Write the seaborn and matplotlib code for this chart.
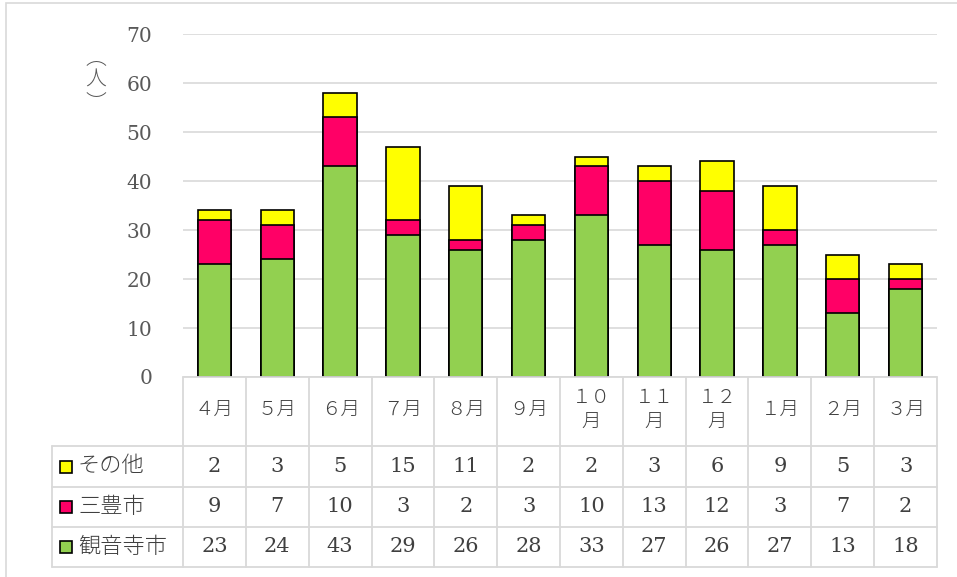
import matplotlib
matplotlib.use("Agg")
import matplotlib.pyplot as plt
import matplotlib.transforms as mtransforms
from matplotlib.patches import Rectangle
import seaborn as sns
import pandas as pd
import numpy as np

months = ['４月', '５月', '６月', '７月', '８月', '９月', '１０月', '１１月', '１２月', '１月', '２月', '３月']
series_names = ['その他', '三豊市', '観音寺市']
sonota = [2, 3, 5, 15, 11, 2, 2, 3, 6, 9, 5, 3]
mitoyo = [9, 7, 10, 3, 2, 3, 10, 13, 12, 3, 7, 2]
kanonji = [23, 24, 43, 29, 26, 28, 33, 27, 26, 27, 13, 18]
colors = {'その他': '#FFFF00', '三豊市': '#FF0066', '観音寺市': '#92D050'}
yticks = [0, 10, 20, 30, 40, 50, 60, 70]
ylabel = '人'

sns.set_theme(style="white")
FAM = ['DejaVu Serif', 'Noto Sans CJK JP', 'DejaVu Sans']
plt.rcParams['font.family'] = FAM

W, H = 957, 577
fig = plt.figure(figsize=(W / 100, H / 100), dpi=100)
fig.patch.set_facecolor('white')

def fx(px):
    return px / W

def fy(py):
    return 1 - py / H

ax_l, ax_r, ax_t, ax_b = 183, 937, 34, 377
ax = fig.add_axes([fx(ax_l), fy(ax_b), fx(ax_r - ax_l), (ax_b - ax_t) / H])

df = pd.DataFrame({'month': months, 'その他': sonota, '三豊市': mitoyo, '観音寺市': kanonji})
df['c2'] = df['観音寺市'] + df['三豊市']
df['c3'] = df['c2'] + df['その他']

bw = 0.53
sns.barplot(data=df, x='month', y='c3', color=colors['その他'], saturation=1,
            edgecolor='black', linewidth=1.2, width=bw, ax=ax, zorder=3)
sns.barplot(data=df, x='month', y='c2', color=colors['三豊市'], saturation=1,
            edgecolor='black', linewidth=1.2, width=bw, ax=ax, zorder=4)
sns.barplot(data=df, x='month', y='観音寺市', color=colors['観音寺市'], saturation=1,
            edgecolor='black', linewidth=1.2, width=bw, ax=ax, zorder=5)

ax.set_xlim(-0.5, len(months) - 0.5)
ax.set_ylim(0, 70)
ax.set_yticks(yticks)
ax.set_yticklabels([str(v) for v in yticks], fontsize=14.5, color='#595959')
ax.tick_params(axis='y', length=0, pad=22)
ax.set_xticks([])
ax.set_xlabel('')
ax.set_ylabel('')
for s in ax.spines.values():
    s.set_visible(False)
ax.yaxis.grid(True, color='#d9d9d9', linewidth=1.2, zorder=0)
ax.set_axisbelow(True)

# y label (vertical)
fig.text(fx(96), fy(80), '︵\n' + ylabel + '\n︶', ha='center', va='center', fontsize=15,
         color='#595959', family=['Noto Sans CJK JP'], linespacing=1.05, fontweight='light')

# table
trans = mtransforms.blended_transform_factory(ax.transData, ax.transAxes)
ah = ax_b - ax_t
def ay(py):
    return (ax_b - py) / ah

x_left_px = 52
col_w = (ax_r - ax_l) / len(months)
x_left = -0.5 + (x_left_px - ax_l) / col_w
row_edges = [377, 446, 487, 527, 567]
gc = '#d9d9d9'
lw = 1.3
ax.plot([-0.5, len(months) - 0.5], [ay(row_edges[0])] * 2, color=gc, lw=lw, transform=trans, clip_on=False, zorder=6)
for r in row_edges[1:]:
    ax.plot([x_left, len(months) - 0.5], [ay(r)] * 2, color=gc, lw=lw, transform=trans, clip_on=False)
for k in range(len(months) + 1):
    ax.plot([-0.5 + k] * 2, [ay(row_edges[0]), ay(row_edges[-1])], color=gc, lw=lw, transform=trans, clip_on=False)
ax.plot([x_left] * 2, [ay(row_edges[1]), ay(row_edges[-1])], color=gc, lw=lw, transform=trans, clip_on=False)

txtc = '#404040'
for i, m in enumerate(months):
    if len(m) > 2:
        lab = m[:-1] + '\n' + m[-1]
    else:
        lab = m
    ax.text(i, ay((row_edges[0] + row_edges[1]) / 2 - 2), lab, transform=trans, ha='center', va='center',
            fontsize=14, color=txtc, linespacing=1.2, family=['Noto Sans CJK JP'], fontweight='light')

rows = [('その他', sonota), ('三豊市', mitoyo), ('観音寺市', kanonji)]
for j, (name, vals) in enumerate(rows):
    yc = (row_edges[j + 1] + row_edges[j + 2]) / 2
    for i, v in enumerate(vals):
        ax.text(i, ay(yc), str(v), transform=trans, ha='center', va='center', fontsize=15, color=txtc)
    fig.patches.append(Rectangle((fx(60), fy(yc + 6)), fx(12), 12 / H, transform=fig.transFigure,
                                 facecolor=colors[name], edgecolor='black', linewidth=1.2))
    fig.text(fx(78), fy(yc), name, ha='left', va='center', fontsize=16, color=txtc,
             family=['Noto Sans CJK JP'], fontweight='light')

fig.patches.append(Rectangle((fx(6), fy(H + 5)), fx(W + 10), (H + 5 - 3) / H, transform=fig.transFigure,
                             facecolor='none', edgecolor='#d9d9d9', linewidth=1.2))

fig.savefig('out.png', dpi=100)
